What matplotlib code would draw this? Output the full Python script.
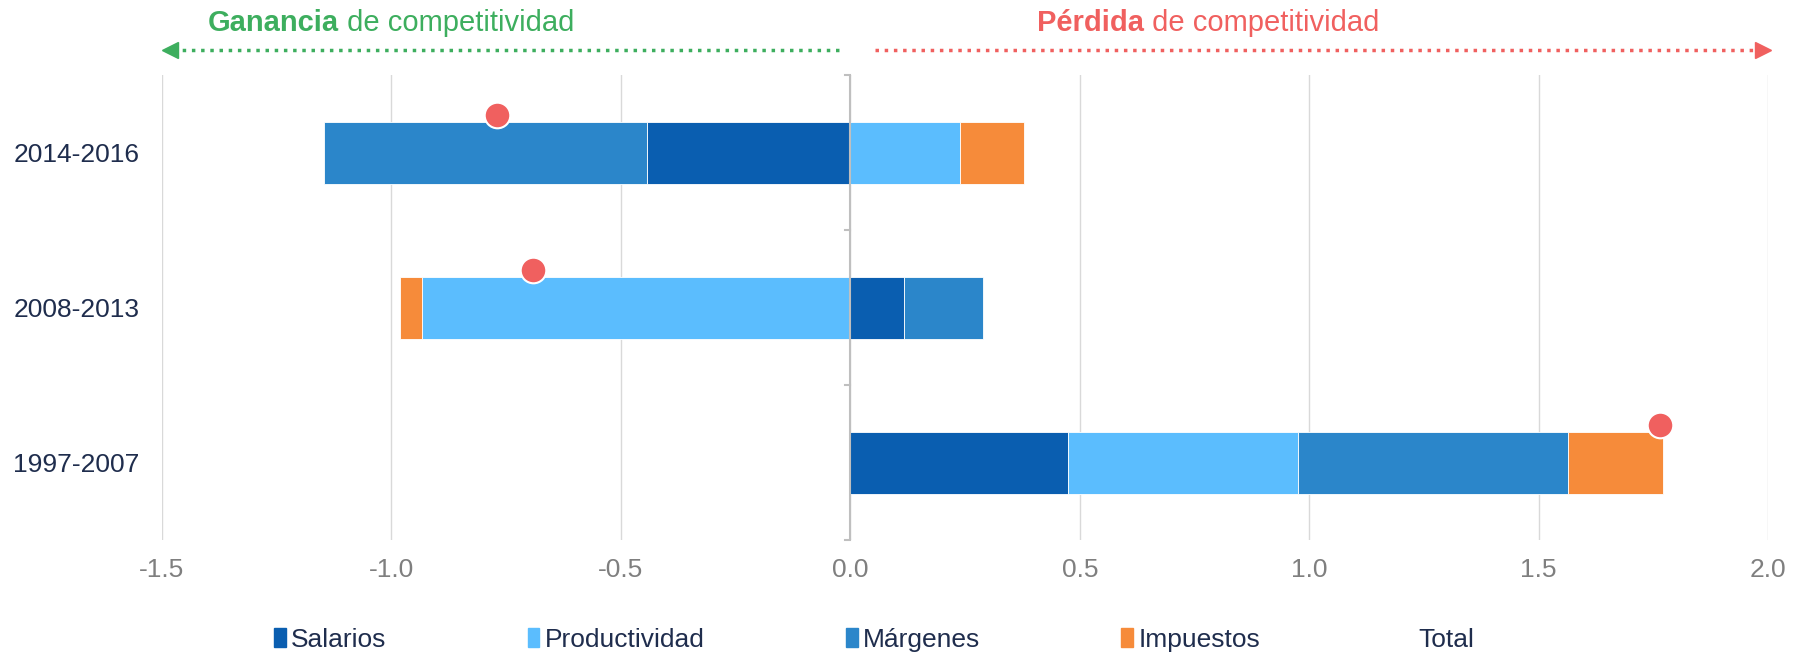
import numpy as np
import matplotlib.pyplot as plt
from matplotlib.patches import Patch
from matplotlib.lines import Line2D

plt.rcParams['font.family'] = ['Liberation Sans', 'DejaVu Sans']

# data, bottom to top
periods = ["1997-2007", "2008-2013", "2014-2016"]
salarios = [0.475, 0.116, -0.443]
productividad = [0.50, -0.933, 0.238]
margenes = [0.588, 0.174, -0.704]
impuestos = [0.208, -0.049, 0.14]
total = [1.765, -0.692, -0.77]

series = [("Salarios", salarios, "#0A5EB0"),
          ("Productividad", productividad, "#5BBDFE"),
          ("Márgenes", margenes, "#2B86CA"),
          ("Impuestos", impuestos, "#F68B3A")]

navy = "#1F2D4D"
green = "#3DAE5E"
red = "#F0605F"

fig = plt.figure(figsize=(18.06, 6.53), dpi=100)
ax = fig.add_axes([0.0897, 0.173, 0.8893, 0.712])

y = np.arange(len(periods))
pos_base = np.zeros(len(periods))
neg_base = np.zeros(len(periods))
for name, vals, col in series:
    vals = np.array(vals)
    left = np.where(vals >= 0, pos_base, neg_base)
    ax.barh(y, vals, left=left, height=0.4, color=col, edgecolor="white",
            linewidth=0.6, zorder=3)
    pos_base += np.where(vals >= 0, vals, 0)
    neg_base += np.where(vals < 0, vals, 0)

ax.scatter(total, y + 0.245, s=340, color=red, edgecolor="white",
           linewidth=1.5, zorder=5, clip_on=False)

ax.set_xlim(-1.5, 2.0)
ax.set_ylim(-0.5, 2.5)
ax.set_xticks(np.arange(-1.5, 2.01, 0.5))
ax.set_xticklabels([f"{v:.1f}" for v in np.arange(-1.5, 2.01, 0.5)])
ax.set_yticks(y)
ax.set_yticklabels(periods)
ax.tick_params(axis="x", length=0, labelsize=19, labelcolor="#7F7F7F", pad=13)
ax.tick_params(axis="y", length=0, labelsize=19, labelcolor=navy, pad=16)
ax.grid(axis="x", color="#D9D9D9", linewidth=1, zorder=0)
for s in ax.spines.values():
    s.set_visible(False)

# zero axis with small category ticks
ax.axvline(0, color="#BFBFBF", linewidth=1.5, zorder=4)
for b in [-0.5, 0.5, 1.5, 2.5]:
    ax.plot([-0.012, 0], [b, b], color="#BFBFBF", linewidth=1.5, zorder=4,
            clip_on=False)

# header arrows and labels
tr = ax.get_xaxis_transform()
ay = 1.055
ax.plot([-1.475, -0.017], [ay, ay], ls=":", lw=2.5, color=green,
        transform=tr, clip_on=False)
ax.plot([-1.483], [ay], marker="<", ms=11, color=green, transform=tr,
        clip_on=False)
ax.plot([0.053, 1.985], [ay, ay], ls=":", lw=2.5, color=red,
        transform=tr, clip_on=False)
ax.plot([1.99], [ay], marker=">", ms=11, color=red, transform=tr,
        clip_on=False)

ty = 1.094
t1 = ax.text(-1.40, ty, "Ganancia", fontsize=21, fontweight="bold",
             color=green, transform=tr, va="baseline", ha="left")
ax.annotate(" de competitividad", xycoords=t1, xy=(1, 0), va="bottom",
            fontsize=21, color=green)
t2 = ax.text(0.406, ty, "Pérdida", fontsize=21, fontweight="bold",
             color=red, transform=tr, va="baseline", ha="left")
ax.annotate(" de competitividad", xycoords=t2, xy=(1, 0), va="bottom",
            fontsize=21, color=red)

handles = [Patch(color=c) for _, _, c in series]
handles.append(Line2D([], [], linestyle="none"))
labels = [n for n, _, _ in series] + ["Total"]
fig.legend(handles, labels, loc="center", bbox_to_anchor=(0.484, 0.02),
           ncol=5, frameon=False, fontsize=19, labelcolor=navy,
           handlelength=0.45, handleheight=0.75, handletextpad=0.2,
           columnspacing=5.35)

fig.savefig("out.png", dpi=100)
